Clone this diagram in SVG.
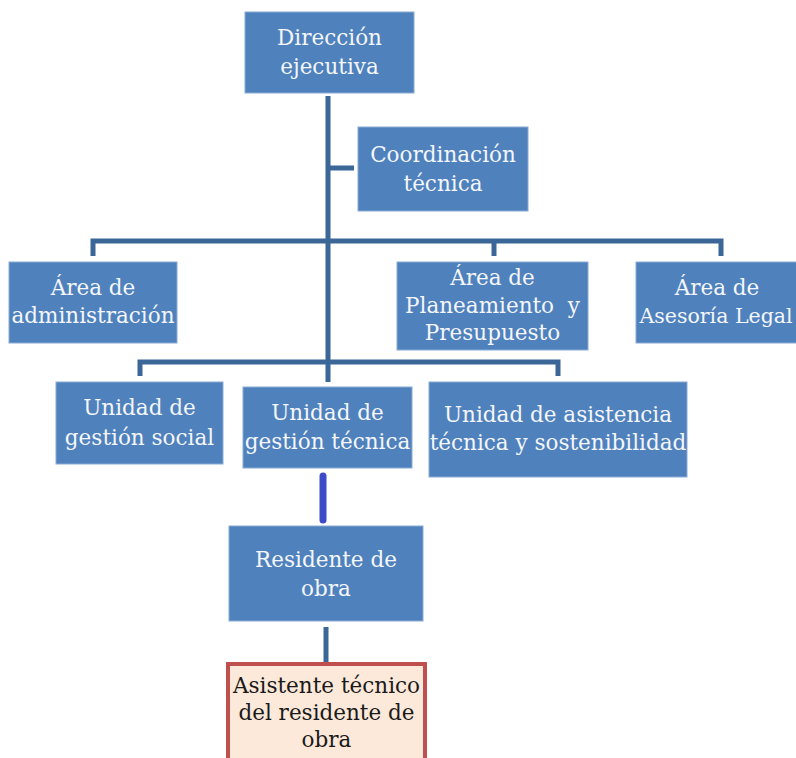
<svg xmlns="http://www.w3.org/2000/svg" width="796" height="758" viewBox="0 0 796 758">
<style>
.box{fill:#4F81BD;stroke:#8AAAD4;stroke-width:1}
.t{font-family:"DejaVu Serif","Liberation Serif",serif;font-size:21.5px;fill:#F4F6FA;text-anchor:middle}
.tb{font-family:"DejaVu Serif","Liberation Serif",serif;font-size:21.5px;fill:#1A1A1A;text-anchor:middle}
.ln{stroke:#3B6698;stroke-width:5;fill:none}
</style>
<rect width="796" height="758" fill="#FFFFFF"/>
<g id="connectors">
<path class="ln" d="M328 96 V382"/>
<path class="ln" d="M328 168 H354"/>
<path class="ln" d="M93 256 V241 H721 V256"/>
<path class="ln" d="M494 241 V256"/>
<path class="ln" d="M140 376 V362 H558 V376"/>
<path d="M323 476 V520" stroke="#3D4BC8" stroke-width="7" stroke-linecap="round" fill="none"/>
<path class="ln" d="M326 627 V663"/>
</g>
<g id="direccion">
<rect class="box" x="245" y="12" width="169" height="81"/>
<text class="t" x="329.5" y="45">Dirección</text>
<text class="t" x="329.5" y="74">ejecutiva</text>
</g>
<g id="coordinacion">
<rect class="box" x="358" y="127" width="170" height="84"/>
<text class="t" x="443" y="162">Coordinación</text>
<text class="t" x="443" y="191">técnica</text>
</g>
<g id="area-administracion">
<rect class="box" x="9" y="262" width="168" height="81"/>
<text class="t" x="93" y="295">Área de</text>
<text class="t" x="93" y="323">administración</text>
</g>
<g id="area-planeamiento">
<rect class="box" x="397" y="262" width="191" height="88"/>
<text class="t" x="492.5" y="285">Área de</text>
<text class="t" x="492.5" y="313" xml:space="preserve">Planeamiento  y</text>
<text class="t" x="492.5" y="340">Presupuesto</text>
</g>
<g id="area-asesoria">
<rect class="box" x="636" y="262" width="164" height="81"/>
<text class="t" x="717" y="295">Área de</text>
<text class="t" x="716" y="323" style="font-size:20.5px">Asesoría Legal</text>
</g>
<g id="unidad-social">
<rect class="box" x="56" y="382" width="167" height="82"/>
<text class="t" x="139.5" y="415">Unidad de</text>
<text class="t" x="139.5" y="445">gestión social</text>
</g>
<g id="unidad-tecnica">
<rect class="box" x="243" y="387" width="169" height="81"/>
<text class="t" x="327.5" y="420">Unidad de</text>
<text class="t" x="327.5" y="449">gestión técnica</text>
</g>
<g id="unidad-asistencia">
<rect class="box" x="429" y="382" width="258" height="95"/>
<text class="t" x="558" y="422">Unidad de asistencia</text>
<text class="t" x="558" y="450">técnica y sostenibilidad</text>
</g>
<g id="residente">
<rect class="box" x="229" y="526" width="194" height="95"/>
<text class="t" x="326" y="567">Residente de</text>
<text class="t" x="326" y="596">obra</text>
</g>
<g id="asistente">
<rect x="228" y="664" width="197" height="110" fill="#FDE9D9" stroke="#C0504D" stroke-width="4"/>
<text class="tb" x="326.5" y="693">Asistente técnico</text>
<text class="tb" x="326.5" y="720">del residente de</text>
<text class="tb" x="326.5" y="747">obra</text>
</g>
</svg>
